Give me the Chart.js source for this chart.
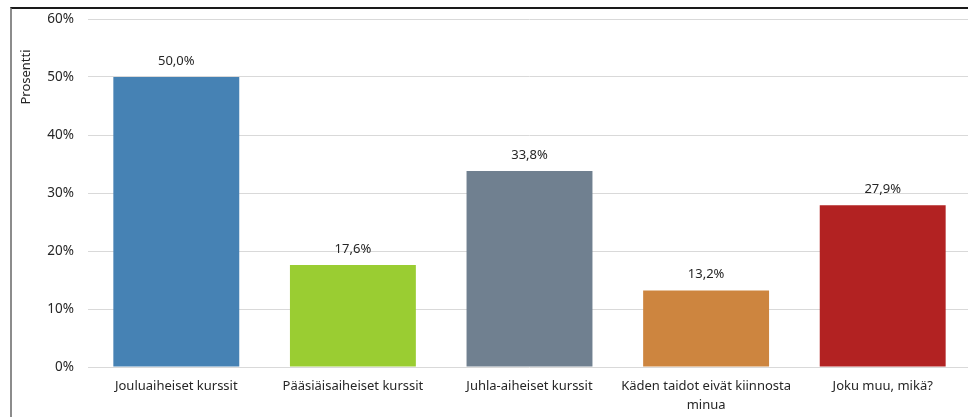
<!DOCTYPE html>
<html>
<head>
<meta charset="utf-8">
<script src="https://cdn.jsdelivr.net/npm/chart.js@4/dist/chart.umd.min.js"></script>
<style>
  html, body { margin: 0; padding: 0; background: #fff; overflow: hidden; }
  #wrap { position: absolute; left: 0; top: 0; width: 971px; height: 417px; }
  #frame { position: absolute; left: 10px; top: 7px; width: 980px; height: 420px;
           border-top: 2px solid #1a1a1a; border-left: 2px solid #8c8c8c; pointer-events: none; }
</style>
</head>
<body>
<div id="frame"></div>
<div id="wrap"><canvas id="c" width="971" height="417"></canvas></div>
<script>
const categories = ["Jouluaiheiset kurssit", "Pääsiäisaiheiset kurssit", "Juhla-aiheiset kurssit", ["Käden taidot eivät kiinnosta", "minua"], "Joku muu, mikä?"];
const values = [50.0, 17.6, 33.8, 13.2, 27.9];
const barColors = ["#4682B4", "#9ACD32", "#708090", "#CD853F", "#B22222"];
const yTicks = [0, 10, 20, 30, 40, 50, 60];
const yTitle = "Prosentti";

const FONT = "'Noto Sans', sans-serif";
const TXT = "#262626";

const labelPlugin = {
  id: 'valueLabels',
  afterDatasetsDraw(chart) {
    const ctx = chart.ctx;
    const meta = chart.getDatasetMeta(0);
    ctx.save();
    ctx.font = "13px " + FONT;
    ctx.fillStyle = TXT;
    ctx.textAlign = "center";
    ctx.textBaseline = "middle";
    meta.data.forEach((bar, i) => {
      const txt = values[i].toFixed(1).replace('.', ',') + '%';
      ctx.fillText(txt, bar.x, bar.y - 16);
    });
    ctx.restore();
  }
};

const titlePlugin = {
  id: 'yTitle',
  afterDraw(chart) {
    const ctx = chart.ctx;
    ctx.save();
    ctx.font = "13px " + FONT;
    ctx.fillStyle = TXT;
    ctx.textAlign = "center";
    ctx.textBaseline = "middle";
    ctx.translate(26, 77);
    ctx.rotate(-Math.PI / 2);
    ctx.fillText(yTitle, 0, 0);
    ctx.restore();
  }
};

new Chart(document.getElementById('c'), {
  type: 'bar',
  data: {
    labels: categories,
    datasets: [{
      data: values,
      backgroundColor: barColors,
      borderWidth: 0,
      categoryPercentage: 1.0,
      barPercentage: 0.713
    }]
  },
  options: {
    responsive: false,
    animation: false,
    events: [],
    layout: { padding: { top: 19, left: 0, right: 0, bottom: 0 } },
    plugins: { legend: { display: false }, tooltip: { enabled: false } },
    scales: {
      x: {
        grid: { display: false, drawTicks: false },
        border: { display: false },
        ticks: { color: TXT, font: { family: FONT, size: 13, lineHeight: 1.45 }, padding: 10, maxRotation: 0, autoSkip: false },
        afterFit(s) { s.height = 50; s.paddingLeft = 0; s.paddingRight = 0; }
      },
      y: {
        min: 0, max: 60,
        afterBuildTicks(s) { s.ticks = yTicks.map(v => ({ value: v })); },
        grid: { color: "#d9d9d9", lineWidth: 1, drawTicks: false },
        border: { display: false },
        ticks: {
          color: TXT, font: { family: FONT, size: 13.5 }, padding: 14,
          callback: v => v + '%'
        },
        afterFit(s) { s.width = 88; s.paddingTop = 0; s.paddingBottom = 0; }
      }
    }
  },
  plugins: [labelPlugin, titlePlugin]
});
</script>
</body>
</html>
